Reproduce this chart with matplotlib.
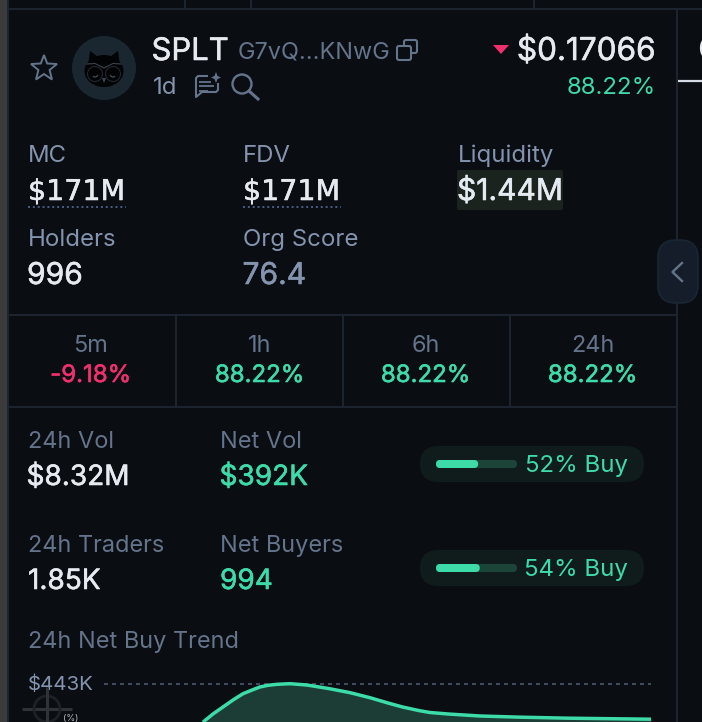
import matplotlib
matplotlib.use("Agg")
import matplotlib.pyplot as plt
import matplotlib.patheffects as pe
from matplotlib.patches import Circle, Ellipse, FancyBboxPatch, Polygon, Rectangle, Wedge

plt.rcParams["font.family"] = ["Inter", "DejaVu Sans"]

# --- data ---
token = "SPLT"
address = "G7vQ...KNwG"
age = "1d"
price = "$0.17066"
price_change = "88.22%"

stat_labels = ["MC", "FDV", "Liquidity", "Holders", "Org Score"]
stat_values = ["$171M", "$171M", "$1.44M", "996", "76.4"]

period_labels = ["5m", "1h", "6h", "24h"]
period_values = ["-9.18%", "88.22%", "88.22%", "88.22%"]

vol_labels = ["24h Vol", "Net Vol", "24h Traders", "Net Buyers"]
vol_values = ["$8.32M", "$392K", "1.85K", "994"]
buy_pct = [52, 54]

trend_hours = [4.34, 4.78, 5.22, 5.66, 6.1, 6.5, 6.84, 7.2, 7.6, 8.16, 8.9, 9.9, 10.8, 11.67, 12.46, 13.1,
               13.8, 14.3, 15.1, 16.5, 18.3, 20.4, 22.2, 24.0]
trend_values = [58, 140, 210, 280, 343, 380, 410, 427, 437, 443, 430, 393, 353, 303, 250, 210,
                175, 155, 140, 120, 108, 98, 93, 88]
trend_top_label = "$443K"

BG = "#0a0d12"
LINE = "#1c2530"
WHITE = "#e6eaf1"
LABEL = "#8494ae"
GREY = "#64748b"
GREEN = "#3ddba8"
RED = "#f0306e"

fig = plt.figure(figsize=(7.02, 7.22), dpi=100, facecolor=BG)
ax = fig.add_axes([0, 0, 1, 1])
ax.set_xlim(0, 702)
ax.set_ylim(722, 0)
ax.axis("off")


def txt(x, y, s, px, color, ha="left", bold=False, family=None):
    t = ax.text(x, y, s, fontsize=px * 0.72, color=color, ha=ha, va="baseline", zorder=6, family=family)
    if bold:  # fake the medium weight
        t.set_path_effects([pe.withStroke(linewidth=0.4, foreground=color)])
    return t


def hline(x0, x1, y, color=LINE, lw=1.4):
    ax.plot([x0, x1], [y, y], color=color, lw=lw, solid_capstyle="butt", zorder=2)


def vline(x, y0, y1, color=LINE, lw=1.4):
    ax.plot([x, x], [y0, y1], color=color, lw=lw, solid_capstyle="butt", zorder=2)


def pill(x0, y0, x1, y1, r, fc, ec="none", z=3, lw=1.2):
    ax.add_patch(FancyBboxPatch((x0 + r, y0 + r), x1 - x0 - 2 * r, y1 - y0 - 2 * r,
                                boxstyle=f"round,pad={r}", fc=fc, ec=ec, lw=lw, zorder=z))


# --- frame ---
ax.add_patch(Rectangle((0, 0), 7, 722, fc="#3b3b3b", ec="none", zorder=1))
hline(8, 702, 8.5)
vline(8, 0, 722)
vline(185, 0, 8)
vline(251, 0, 8)
vline(534, 0, 8)
vline(677, 8, 722)
hline(8, 677, 315)
hline(8, 677, 407)
for x in [176, 343, 510]:
    vline(x, 315, 407)
hline(678, 702, 81, color="#d5dbe4", lw=1.6)
txt(697, 60, "C", 32, WHITE)

# --- header ---
star_x = [44, 47.2, 57, 49.6, 52, 44, 36, 38.4, 31, 40.8]
star_y = [55, 63.5, 64, 70, 79.5, 74, 79.5, 70, 64, 63.5]
ax.add_patch(Polygon(list(zip(star_x, star_y)), closed=True, fc="none", ec=GREY, lw=1.4, zorder=4))

# owl avatar
ax.add_patch(Circle((104, 68), 32, fc="#1a2630", ec="none", zorder=3))
ax.add_patch(Ellipse((104, 71), 39, 32, fc="#020304", ec="none", zorder=4))
ax.add_patch(Polygon([(88, 66), (90, 51), (98, 57), (110, 57), (118, 51), (120, 66)], fc="#020304", zorder=4))
ax.plot([87, 95, 104, 113, 121], [64, 63.5, 68, 63.5, 64], color="#39444f", lw=0.8, zorder=5)
for cx, a0, a1 in [(95, 20, 130), (113, 50, 160)]:
    ax.add_patch(Circle((cx, 74), 7.5, fc="#020304", ec="#20272e", lw=0.8, zorder=5))
    ax.add_patch(Wedge((cx, 74), 3.6, a0, a1, width=1.2, fc="#46525e", ec="none", zorder=5))
ax.add_patch(Polygon([(102, 78), (106, 78), (104, 83)], fc="#3a4652", zorder=5))

txt(151.5, 60, token, 31, WHITE, bold=True)
txt(238, 58, address, 23.5, GREY)

# copy icon
pill(404, 40, 417, 53, 2, "none", GREY, z=4, lw=1.5)
pill(397, 46, 411, 60, 2, BG, GREY, z=5, lw=1.5)

txt(153, 94, age, 24, LABEL)

# note icon
ax.plot([207, 198, 196, 196, 202, 216, 218, 218], [76, 76, 78, 97, 92, 92, 90, 84], color=GREY, lw=1.5, zorder=4)
hline(199, 211, 82, GREY, 1.3)
hline(199, 214, 86, GREY, 1.3)
hline(199, 208, 90.5, GREY, 1.3)
ax.add_patch(Polygon([(216, 72), (217.5, 76), (221, 77.5), (217.5, 79), (216, 83), (214.5, 79), (211, 77.5), (214.5, 76)],
                     fc=GREY, ec="none", zorder=4))

# search icon
ax.add_patch(Circle((242, 84), 9.5, fc="none", ec=GREY, lw=1.7, zorder=4))
ax.plot([249, 258], [91, 99], color=GREY, lw=2.2, zorder=4)

ax.add_patch(Polygon([(493, 45), (509, 45), (501, 54)], fc=RED, ec="none", zorder=4))
txt(655.5, 60, price, 31.5, WHITE, ha="right", bold=True)
txt(655.5, 94, price_change, 24, GREEN, ha="right")

# --- stats ---
stat_xs = [28, 243, 458, 28, 243]
value_xs = [28, 243, 457, 27, 242.5]
label_ys = [162, 162, 162, 246, 246]
value_ys = [200, 200, 200, 284, 284]
stat_colors = [WHITE, WHITE, WHITE, WHITE, LABEL]
pill(457, 170, 563, 210, 2, "#1b231f")
for x, vx, ly, vy, lab, val, col in zip(stat_xs, value_xs, label_ys, value_ys, stat_labels, stat_values, stat_colors):
    txt(x, ly, lab, 24, LABEL)
    if val == "$171M":  # the 1 here has a foot and a full digit width
        txt(vx, vy, val, 28.5, col, bold=True, family="DejaVu Sans")
    else:
        txt(vx, vy, val, 30, col, bold=True)
for x0 in [28, 243]:
    ax.plot([x0, x0 + 98], [207, 207], color="#4a5f85", lw=1.4, ls=(0, (1, 1.5)), zorder=4)

# toggle
pill(658, 240, 698, 303, 18, "#141d29", "#1a2633", z=4)
ax.plot([682, 672.5, 682], [263, 272, 281], color=GREY, lw=1.7, zorder=5)

# --- periods ---
period_xs = [90.5, 259.5, 425.5, 592.5]
for x, lab, val in zip(period_xs, period_labels, period_values):
    txt(x, 352, lab, 23.5, GREY, ha="center")
    txt(x, 382, val, 24, RED if val.startswith("-") else GREEN, ha="center", bold=True)

# --- volume block ---
vol_xs = [28, 220, 28, 220]
vol_value_xs = [26.5, 219.5, 28, 220]
vol_label_ys = [448, 448, 552, 552]
vol_value_ys = [485, 485, 589, 589]
vol_colors = [WHITE, GREEN, WHITE, GREEN]
for x, vx, ly, vy, lab, val, col in zip(vol_xs, vol_value_xs, vol_label_ys, vol_value_ys, vol_labels, vol_values, vol_colors):
    txt(x, ly, lab, 23.5, GREY)
    txt(vx, vy, val, 28, col, bold=True)

for y0, pct in zip([446, 550], buy_pct):
    pill(420, y0, 644, y0 + 36, 18, "#101b1b")
    pill(436, y0 + 14, 517, y0 + 22, 4, "#1c4437", z=4)
    pill(436, y0 + 14, 436 + 81 * pct / 100, y0 + 22, 4, GREEN, z=5)
    txt(628, y0 + 26, f"{pct}% Buy", 24, GREEN, ha="right")

# --- trend ---
txt(28, 648, "24h Net Buy Trend", 23.5, GREY)
txt(28, 690, trend_top_label, 20.5, LABEL)

tx = fig.add_axes([104 / 702, 0, 547 / 702, (722 - 683.7) / 722])
tx.set_xlim(0, 24)
tx.set_ylim(60, 443)
tx.axis("off")
tx.patch.set_alpha(0)
tx.fill_between(trend_hours, trend_values, 0, color="#1b3d36", lw=0, zorder=1)
tx.plot(trend_hours, trend_values, color=GREEN, lw=2.5, solid_capstyle="butt", solid_joinstyle="round", zorder=3, clip_on=False)
tx.axhline(443, color="#4b5870", lw=1.2, ls=(0, (2.4, 2.4)), zorder=2, clip_on=False)

# watermark crosshair
ax.add_patch(Circle((47, 709), 13, fc="none", ec="#1e2228", lw=2, zorder=7))
hline(22, 72, 709, "#2f3338", 2.2)
ax.plot([47, 47], [687, 722], color="#2f3338", lw=2.2, solid_capstyle="butt", zorder=7)
txt(63, 721, "(%)", 9, "#b8bcc2")

fig.savefig("out.png", dpi=100, facecolor=BG)
